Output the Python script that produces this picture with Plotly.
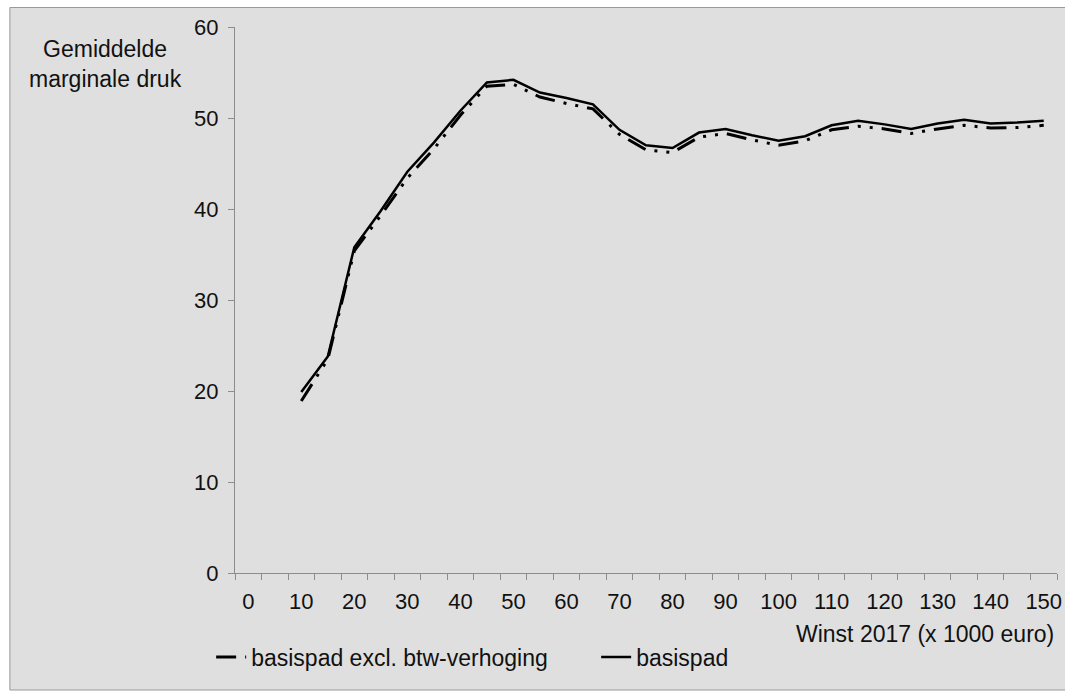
import plotly.graph_objects as go

winst = list(range(0, 155, 5))  # categories 0..150 (x 1000 euro)
tick_labels = [str(v) for v in range(0, 160, 10)]

basispad = [None, None, 19.9, 23.8, 35.8, 39.8, 44.1, 47.3, 50.8, 53.9, 54.2,
            52.8, 52.2, 51.5, 48.7, 47.0, 46.7, 48.4, 48.8, 48.1, 47.5,
            48.0, 49.2, 49.7, 49.3, 48.8, 49.4, 49.8, 49.4, 49.5, 49.7]
excl_btw = [None, None, 18.9, 23.5, 35.4, 39.3, 43.4, 46.6, 50.3, 53.5, 53.7,
            52.3, 51.6, 51.0, 48.2, 46.5, 46.2, 47.9, 48.3, 47.6, 47.0,
            47.5, 48.7, 49.1, 48.8, 48.3, 48.8, 49.2, 48.9, 48.95, 49.2]

FONT = "Liberation Sans, Arial, sans-serif"
BG = "#dfdfdf"

fig = go.Figure()
fig.add_trace(go.Scatter(
    x=winst, y=excl_btw, mode="lines", name="basispad excl. btw-verhoging",
    line=dict(color="black", width=3, dash="20px,9px,3px,9px,3px,9px"),
    connectgaps=False))
fig.add_trace(go.Scatter(
    x=winst, y=basispad, mode="lines", name="basispad",
    line=dict(color="black", width=2.5), connectgaps=False))

W, H = 1065, 698
L, T = 235, 27
R = W - (235 + 827)
B = H - 573
pw, ph = W - L - R, H - T - B

def px(xs):
    return (xs - L) / pw

def py(ys):
    return (H - B - ys) / ph

fig.add_shape(type="rect", xref="paper", yref="paper",
              x0=px(8.5), x1=px(1080), y0=py(690), y1=py(7.5),
              fillcolor=BG, line=dict(color="#9a9a9a", width=1), layer="below")

fig.update_layout(
    width=W, height=H,
    margin=dict(l=L, r=R, t=T, b=B),
    paper_bgcolor="white", plot_bgcolor=BG,
    font=dict(family=FONT, size=22, color="#111111"),
    showlegend=True,
    legend=dict(orientation="h", x=px(211), xanchor="left", y=py(657), yanchor="middle",
                bgcolor="rgba(0,0,0,0)", font=dict(size=23), itemwidth=30,
                entrywidth=340, tracegroupgap=0),
    xaxis=dict(range=[-2.5, 152.5], showgrid=False, zeroline=False,
               showline=True, linecolor="#8c8c8c", linewidth=1,
               tickmode="array", tickvals=list(range(0, 160, 10)), ticktext=tick_labels,
               ticks="", ticklabelstandoff=9, ticklabeloverflow="allow",
               minor=dict(tick0=-2.5, dtick=5, ticks="outside", ticklen=6,
                          tickcolor="#8c8c8c", showgrid=False)),
    yaxis=dict(range=[0, 60], showgrid=False, zeroline=False,
               showline=True, linecolor="#8c8c8c", linewidth=1,
               tickvals=[0, 10, 20, 30, 40, 50, 60], ticks="outside", ticklen=6,
               tickcolor="#8c8c8c", ticklabelstandoff=5),
)

fig.add_annotation(text="Gemiddelde<br>marginale druk", xref="paper", yref="paper",
                   x=px(105), y=py(64), xanchor="center", yanchor="middle",
                   showarrow=False, align="center", font=dict(size=23))
fig.add_annotation(text="Winst 2017 (x 1000 euro)", xref="paper", yref="paper",
                   x=px(1061), y=py(634), xanchor="right", yanchor="middle",
                   showarrow=False, font=dict(size=23))

fig.write_html(
    "out.html",
    config={"displayModeBar": False},
    post_script="document.body.style.margin='0';document.body.style.overflow='hidden';",
)
